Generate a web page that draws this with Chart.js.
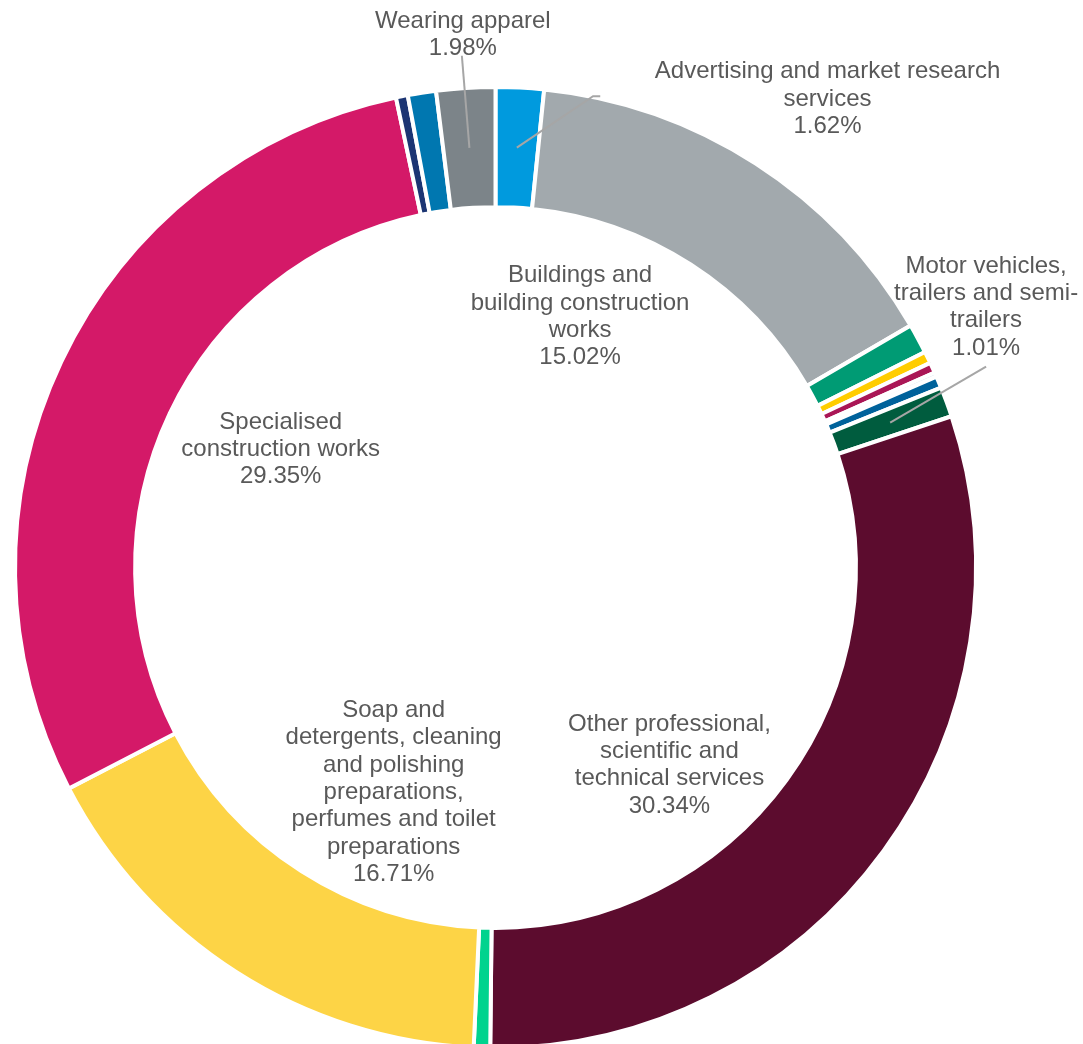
<!DOCTYPE html>
<html>
<head>
<meta charset="utf-8">
<script src="https://cdn.jsdelivr.net/npm/chart.js@4.4.1/dist/chart.umd.min.js"></script>
<style>
  html, body { margin: 0; padding: 0; background: #fff; overflow: hidden; }
  #wrap { width: 1083px; height: 1052px; position: relative; }
</style>
</head>
<body>
<div id="wrap"><canvas id="donut"></canvas></div>
<script>
// slices, clockwise from 12 o'clock
var categories = [
  'Advertising and market research services',
  'Buildings and building construction works',
  'Unlabelled sector A',
  'Unlabelled sector B',
  'Unlabelled sector C',
  'Unlabelled sector D',
  'Unlabelled sector E',
  'Motor vehicles, trailers and semi-trailers',
  'Other professional, scientific and technical services',
  'Unlabelled sector F',
  'Soap and detergents, cleaning and polishing preparations, perfumes and toilet preparations',
  'Specialised construction works',
  'Unlabelled sector G',
  'Unlabelled sector H',
  'Wearing apparel'
];
var shares = [1.62, 15.02, 1.0, 0.4, 0.35, 0.15, 0.4, 1.01, 30.34, 0.55, 16.71, 29.35, 0.4, 0.95, 1.98];
var colours = ['#009ADE', '#A2A9AD', '#009B74', '#FFCD00', '#AA1656', '#D9E4EE', '#00629B', '#005C3E',
               '#5C0C2E', '#00D38E', '#FDD446', '#D41968', '#1C3573', '#0077B0', '#7C8489'];

// which slices get a label, where it sits (fraction of the outer radius from the centre)
var labelLayout = [
  {i: 0,  dx: 0.691,  dy: -0.975, wrap: 360, leader: [[0.218, -0.981], [0.203, -0.981]]},
  {i: 1,  dx: 0.176,  dy: -0.522, wrap: 225},
  {i: 7,  dx: 1.021,  dy: -0.542, wrap: 225, leader: [[1.021, -0.418]]},
  {i: 8,  dx: 0.362,  dy: 0.411,  wrap: 225},
  {i: 10, dx: -0.212, dy: 0.468,  wrap: 225},
  {i: 11, dx: -0.447, dy: -0.246, wrap: 225},
  {i: 14, dx: -0.068, dy: -1.108, wrap: 225, leader: [[-0.070, -1.065]]}
];

function wrapText(ctx, text, maxW) {
  // split on spaces and after hyphens
  var marked = text.replace(/-/g, '-\u0000');
  var words = marked.split(/ |\u0000/);
  var seps = [];
  marked.replace(/ |\u0000/g, function(m) { seps.push(m === ' ' ? ' ' : ''); });
  var lines = [], cur = words[0];
  for (var k = 1; k < words.length; k++) {
    var tryStr = cur + seps[k - 1] + words[k];
    if (ctx.measureText(tryStr).width > maxW) { lines.push(cur); cur = words[k]; }
    else cur = tryStr;
  }
  lines.push(cur);
  return lines;
}

var sliceLabels = {
  id: 'sliceLabels',
  afterDatasetsDraw: function(chart) {
    var ctx = chart.ctx;
    var arcs = chart.getDatasetMeta(0).data;
    var cx = arcs[0].x, cy = arcs[0].y, R = arcs[0].outerRadius;
    ctx.save();
    ctx.font = '24px "Liberation Sans", Arial, sans-serif';
    ctx.fillStyle = '#595959';
    ctx.textAlign = 'center';
    ctx.textBaseline = 'middle';
    var lh = 27.3;
    labelLayout.forEach(function(l) {
      var lines = wrapText(ctx, categories[l.i], l.wrap);
      lines.push(shares[l.i].toFixed(2) + '%');
      var x = cx + l.dx * R, y = cy + l.dy * R;
      var y0 = y - (lines.length - 1) * lh / 2;
      lines.forEach(function(t, k) { ctx.fillText(t, x, y0 + k * lh); });
      if (l.leader) {
        var p = arcs[l.i].tooltipPosition();
        ctx.strokeStyle = '#A6A6A6';
        ctx.lineWidth = 2;
        ctx.beginPath();
        ctx.moveTo(cx + l.leader[0][0] * R, cy + l.leader[0][1] * R);
        for (var k = 1; k < l.leader.length; k++) ctx.lineTo(cx + l.leader[k][0] * R, cy + l.leader[k][1] * R);
        ctx.lineTo(p.x, p.y);
        ctx.stroke();
      }
    });
    ctx.restore();
  }
};

new Chart(document.getElementById('donut').getContext('2d'), {
  type: 'doughnut',
  data: {
    labels: categories,
    datasets: [{
      data: shares,
      backgroundColor: colours,
      borderColor: '#ffffff',
      borderWidth: 4
    }]
  },
  options: {
    responsive: true,
    maintainAspectRatio: false,
    animation: false,
    cutout: '75%',
    layout: { padding: { left: 13, right: 105, top: 85, bottom: 2 } },
    plugins: {
      legend: { display: false },
      tooltip: { enabled: false }
    }
  },
  plugins: [sliceLabels]
});
</script>
</body>
</html>
